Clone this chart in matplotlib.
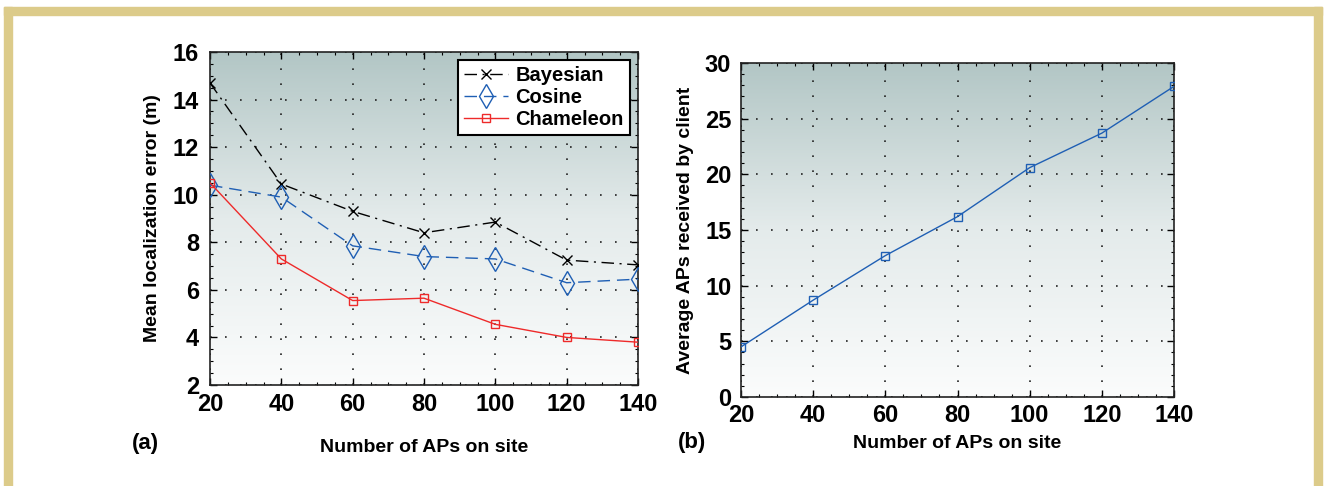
import numpy as np
import matplotlib
matplotlib.use("Agg")
from matplotlib import pyplot as plt
from matplotlib.patches import Rectangle
from matplotlib.ticker import MultipleLocator

# Data
aps = [20, 40, 60, 80, 100, 120, 140]
bayesian = [14.7, 10.45, 9.3, 8.4, 8.85, 7.25, 7.05]
cosine = [10.4, 9.9, 7.85, 7.4, 7.3, 6.3, 6.45]
chameleon = [10.5, 7.3, 5.55, 5.65, 4.55, 4.0, 3.8]
aps_received = [4.5, 8.7, 12.7, 16.2, 20.6, 23.7, 27.9]

plt.rcParams['font.family'] = ['Liberation Sans', 'DejaVu Sans']
plt.rcParams['font.weight'] = 'bold'
plt.rcParams['axes.labelweight'] = 'bold'

W, H = 1326, 486
fig = plt.figure(figsize=(W / 100, H / 100), dpi=100)

# tan frame around the figure
frame_col = '#dccb8a'
fig.patches.append(Rectangle((4 / W, 0), 8 / W, 1 - 7 / H, transform=fig.transFigure, color=frame_col))
fig.patches.append(Rectangle((1314 / W, 0), 8 / W, 1 - 7 / H, transform=fig.transFigure, color=frame_col))
fig.patches.append(Rectangle((4 / W, 1 - 15 / H), 1318 / W, 8 / H, transform=fig.transFigure, color=frame_col))


def make_ax(l, r, t, b):
    return fig.add_axes([l / W, 1 - b / H, (r - l) / W, (b - t) / H])


def style(ax):
    grad = np.linspace(0, 1, 256).reshape(-1, 1)
    cmap = matplotlib.colors.LinearSegmentedColormap.from_list('bg', ['#fbfcfc', '#e4ebeb', '#b2c6c5'])
    ax.imshow(grad, extent=[0, 1, 0, 1], transform=ax.transAxes, cmap=cmap,
              origin='lower', aspect='auto', zorder=0)
    ax.grid(True, linestyle=(0, (1, 8)), color='#222222', linewidth=1.2)
    ax.set_axisbelow(True)
    ax.tick_params(direction='in', top=True, right=True, labelsize=17, length=5, width=1)
    ax.tick_params(which='minor', direction='in', top=True, right=True, length=2.5, width=0.8)
    for s in ax.spines.values():
        s.set_linewidth(1.2)
        s.set_color('#222222')
    ax.set_xlim(20, 140)
    ax.set_xticks(aps)
    ax.xaxis.set_minor_locator(MultipleLocator(5))


# (a)
ax1 = make_ax(210, 638, 52, 385)
style(ax1)
ax1.set_ylim(2, 16)
ax1.set_yticks(range(2, 17, 2))
ax1.yaxis.set_minor_locator(MultipleLocator(0.5))
ax1.tick_params(axis='y', pad=8)
ax1.tick_params(axis='x', pad=6)
ax1.plot(aps, bayesian, color='black', linestyle=(0, (9, 4, 1.5, 4)), linewidth=1,
         marker='x', markersize=7, markeredgewidth=1, label='Bayesian', zorder=3)
ax1.plot(aps, cosine, color='#1f5fb4', linestyle=(0, (9, 5)), linewidth=1,
         marker='d', markersize=12, markerfacecolor='none', markeredgewidth=1,
         label='Cosine', zorder=3)
ax1.plot(aps, chameleon, color='#ee2a2a', linestyle='-', linewidth=1,
         marker='s', markersize=6, markerfacecolor='none', markeredgewidth=1,
         label='Chameleon', zorder=4)
leg = ax1.legend(loc='upper right', fontsize=14.5, frameon=True, fancybox=False,
                 handlelength=2.2, handletextpad=0.35, borderpad=0.3, labelspacing=0.15,
                 borderaxespad=0.4)
leg.get_frame().set_edgecolor('black')
leg.get_frame().set_linewidth(1.5)
leg.get_frame().set_alpha(1)
ax1.set_ylabel('Mean localization error (m)', fontsize=14, labelpad=8)
ax1.set_xlabel('Number of APs on site', fontsize=14, labelpad=16)
fig.text(145 / W, 1 - 443 / H, '(a)', fontsize=16, ha='center', va='center')

# (b)
ax2 = make_ax(741, 1174, 63, 397)
style(ax2)
ax2.set_ylim(0, 30)
ax2.set_yticks(range(0, 31, 5))
ax2.yaxis.set_minor_locator(MultipleLocator(1))
ax2.tick_params(axis='y', pad=7)
ax2.tick_params(axis='x', pad=5)
ax2.plot(aps, aps_received, color='#1f5fb4', linewidth=1, marker='s', markersize=6,
         markerfacecolor='none', markeredgewidth=1, zorder=3)
ax2.set_ylabel('Average APs received by client', fontsize=14, labelpad=8)
ax2.set_xlabel('Number of APs on site', fontsize=14, labelpad=6)
fig.text(692 / W, 1 - 442 / H, '(b)', fontsize=16, ha='center', va='center')

fig.savefig('out.png', dpi=100)
